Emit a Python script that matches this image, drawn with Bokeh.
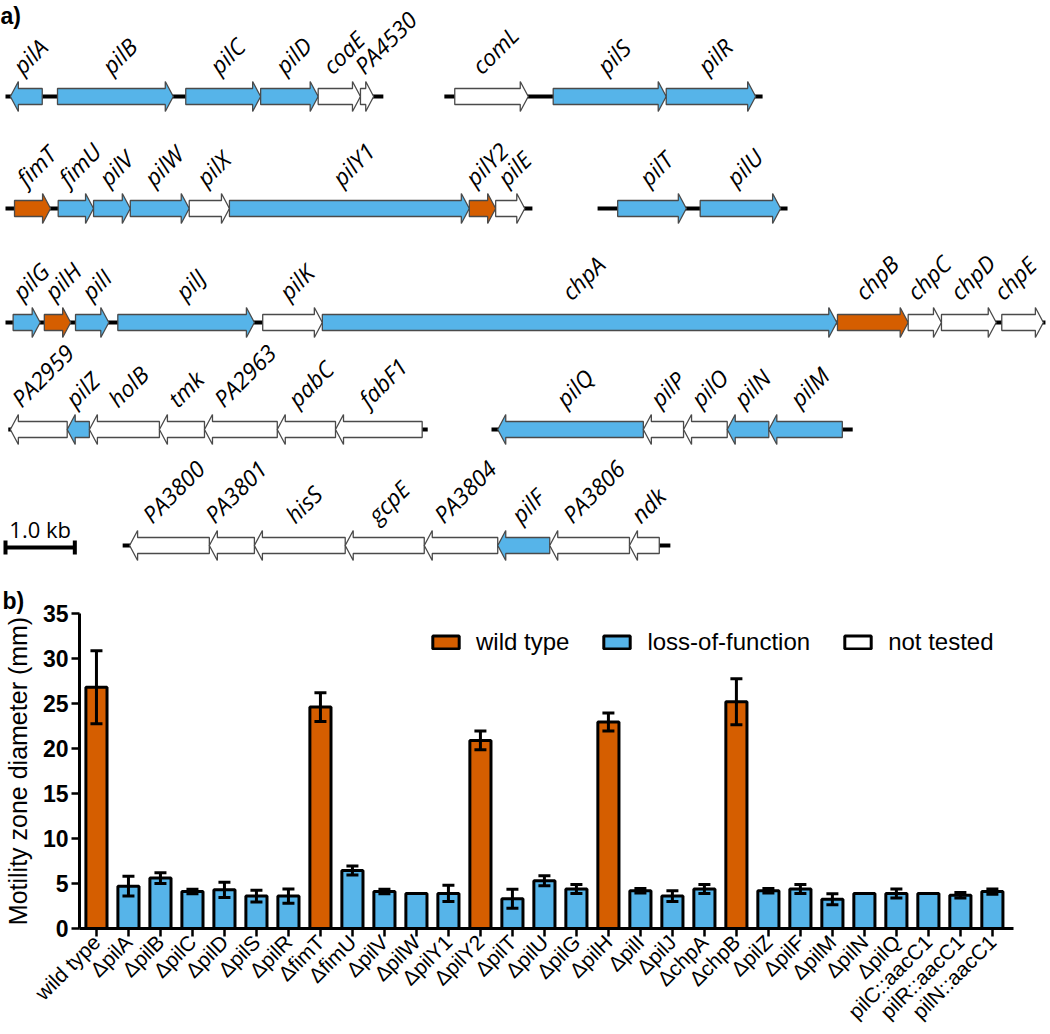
import math
from bokeh.plotting import figure
from bokeh.models import (Range1d, ColumnDataSource, FixedTicker, Whisker, TeeHead,
                          Legend, LegendItem)
from bokeh.core.properties import value
from bokeh.embed import file_html
from bokeh.resources import INLINE

BLUE = "#56B4E9"
ORANGE = "#D55E00"
WHITE = "#FFFFFF"
STATUS_COLOR = {"wt": ORANGE, "lof": BLUE, "nt": WHITE}

# ---------------- Panel a: gene maps (coordinates in kb) ----------------
row1_genes = ["pilA", "pilB", "pilC", "pilD", "coaE", "PA4530", "comL", "pilS", "pilR"]
row1_start = [0.07, 0.75, 2.60, 3.68, 4.51, 5.12, 6.48, 7.90, 9.53]
row1_end = [0.53, 2.42, 3.68, 4.51, 5.12, 5.31, 7.54, 9.53, 10.82]
row1_strand = [-1, 1, 1, 1, 1, 1, 1, 1, 1]
row1_status = ["lof", "lof", "lof", "lof", "nt", "nt", "nt", "lof", "lof"]
row1_loci = [(0.00, 5.45), (6.33, 10.92)]

row2_genes = ["fimT", "fimU", "pilV", "pilW", "pilX", "pilY1", "pilY2", "pilE", "pilT", "pilU"]
row2_start = [0.13, 0.76, 1.27, 1.80, 2.65, 3.23, 6.69, 7.07, 8.83, 10.02]
row2_end = [0.65, 1.27, 1.80, 2.65, 3.23, 6.69, 7.07, 7.49, 9.82, 11.18]
row2_strand = [1, 1, 1, 1, 1, 1, 1, 1, 1, 1]
row2_status = ["wt", "lof", "lof", "lof", "nt", "lof", "wt", "nt", "lof", "lof"]
row2_loci = [(0.00, 7.60), (8.54, 11.28)]

row3_genes = ["pilG", "pilH", "pilI", "pilJ", "pilK", "chpA", "chpB", "chpC", "chpD", "chpE"]
row3_start = [0.11, 0.56, 1.01, 1.62, 3.71, 4.57, 12.00, 13.02, 13.50, 14.37]
row3_end = [0.50, 0.94, 1.49, 3.59, 4.57, 11.99, 13.02, 13.50, 14.29, 14.97]
row3_strand = [1, 1, 1, 1, 1, 1, 1, 1, 1, 1]
row3_status = ["lof", "wt", "lof", "lof", "nt", "lof", "wt", "nt", "nt", "nt"]
row3_loci = [(0.00, 15.0)]

row4_genes = ["PA2959", "pilZ", "holB", "tmk", "PA2963", "pabC", "fabF1",
              "pilQ", "pilP", "pilO", "pilN", "pilM"]
row4_start = [0.07, 0.89, 1.21, 2.22, 2.87, 3.92, 4.76, 7.10, 9.20, 9.78, 10.41, 11.01]
row4_end = [0.89, 1.21, 2.22, 2.87, 3.92, 4.76, 6.01, 9.20, 9.78, 10.41, 11.01, 12.07]
row4_strand = [-1] * 12
row4_status = ["nt", "lof", "nt", "nt", "nt", "nt", "nt", "lof", "nt", "nt", "lof", "lof"]
row4_loci = [(0.04, 6.09), (7.01, 12.22)]

row5_genes = ["PA3800", "PA3801", "hisS", "gcpE", "PA3804", "pilF", "PA3806", "ndk"]
row5_start = [1.79, 2.94, 3.59, 4.90, 6.04, 7.10, 7.85, 9.00]
row5_end = [2.94, 3.59, 4.90, 6.04, 7.10, 7.85, 9.00, 9.43]
row5_strand = [-1] * 8
row5_status = ["nt", "nt", "nt", "nt", "nt", "lof", "nt", "nt"]
row5_loci = [(1.69, 9.59)]

scale_bar_kb = 1.0

# ---------------- Panel b: motility data ----------------
strains = ["wild type", "ΔpilA", "ΔpilB", "ΔpilC", "ΔpilD", "ΔpilS", "ΔpilR", "ΔfimT",
           "ΔfimU", "ΔpilV", "ΔpilW", "ΔpilY1", "ΔpilY2", "ΔpilT", "ΔpilU", "ΔpilG",
           "ΔpilH", "ΔpilI", "ΔpilJ", "ΔchpA", "ΔchpB", "ΔpilZ", "ΔpilF", "ΔpilM",
           "ΔpilN", "ΔpilQ", "pilC::aacC1", "pilR::aacC1", "pilN::aacC1"]
motility = [26.8, 4.7, 5.6, 4.1, 4.3, 3.6, 3.6, 24.6, 6.45, 4.1, 3.9, 3.9, 20.9, 3.3, 5.3,
            4.4, 22.95, 4.2, 3.6, 4.4, 25.2, 4.2, 4.4, 3.25, 3.9, 3.9, 3.9, 3.7, 4.1]
motility_err = [4.05, 1.1, 0.6, 0.25, 0.85, 0.65, 0.8, 1.6, 0.5, 0.25, 0.0, 0.9, 1.05, 1.05,
                0.55, 0.5, 1.0, 0.25, 0.6, 0.5, 2.55, 0.25, 0.5, 0.6, 0.0, 0.5, 0.0, 0.3, 0.3]
phenotype = ["wt", "lof", "lof", "lof", "lof", "lof", "lof", "wt", "lof", "lof", "lof", "lof",
             "wt", "lof", "lof", "lof", "wt", "lof", "lof", "lof", "wt", "lof", "lof", "lof",
             "lof", "lof", "lof", "lof", "lof"]
legend_labels = {"wt": "wild type", "lof": "loss-of-function", "nt": "not tested"}

# ================= Figure a =================
W = 1050
HA = 580
PX_PER_KB = 69.33
KB_LEFT = -5 / PX_PER_KB
KB_RIGHT = KB_LEFT + W / PX_PER_KB
ROW_Y = [96, 208, 322, 429, 545]
BODY = 8
HEAD = 15
HEAD_PX = 8
LABEL_FS = 23
MIN_LABEL_GAP_PX = 32
RIGHT_PAD_PX = 14

pa = figure(width=W, height=HA, x_range=Range1d(KB_LEFT, KB_RIGHT), y_range=Range1d(HA, 0),
            output_backend="svg", toolbar_location=None, min_border=0,
            x_axis_location=None, y_axis_location=None)
pa.grid.visible = False
pa.outline_line_color = None

OS_W = {'a': .556, 'b': .613, 'c': .479, 'd': .613, 'e': .561, 'f': .336, 'g': .546,
        'h': .614, 'i': .258, 'j': .258, 'k': .529, 'l': .258, 'm': .932, 'n': .614,
        'o': .603, 'p': .613, 'q': .613, 'r': .408, 's': .477, 't': .353, 'u': .614,
        'v': .501, 'w': .778, 'x': .524, 'y': .501, 'z': .463,
        'A': .633, 'B': .647, 'C': .631, 'D': .732, 'E': .556, 'F': .521, 'G': .729,
        'H': .740, 'I': .279, 'J': .267, 'K': .618, 'L': .531, 'M': .908, 'N': .765,
        'O': .781, 'P': .602, 'Q': .781, 'R': .617, 'S': .549, 'T': .553, 'U': .728,
        'V': .592, 'W': .924, 'X': .577, 'Y': .560, 'Z': .571}


def text_width(s, fs):
    return sum(OS_W.get(ch, 0.572) for ch in s) * fs


rows = [
    (row1_genes, row1_start, row1_end, row1_strand, row1_status, row1_loci),
    (row2_genes, row2_start, row2_end, row2_strand, row2_status, row2_loci),
    (row3_genes, row3_start, row3_end, row3_strand, row3_status, row3_loci),
    (row4_genes, row4_start, row4_end, row4_strand, row4_status, row4_loci),
    (row5_genes, row5_start, row5_end, row5_strand, row5_status, row5_loci),
]

seg_x0, seg_x1, seg_y = [], [], []
pxs, pys, pcol = [], [], []
lx, ly, lt = [], [], []
c45 = math.cos(math.pi / 4)
for (genes, starts, ends, strands, status, loci), y in zip(rows, ROW_Y):
    for a, b in loci:
        seg_x0.append(a)
        seg_x1.append(b)
        seg_y.append(y)
    prev_bx = None
    for g, s, e, st, ss in zip(genes, starts, ends, strands, status):
        h = min(HEAD_PX / PX_PER_KB, (e - s) * 0.6)
        if st > 0:
            bb = e - h
            xs = [s, bb, bb, e, bb, bb, s]
        else:
            bb = s + h
            xs = [e, bb, bb, s, bb, bb, e]
        ys = [y - BODY, y - BODY, y - HEAD, y, y + HEAD, y + BODY, y + BODY]
        pxs.append(xs)
        pys.append(ys)
        pcol.append(STATUS_COLOR[ss])
        # label placement (screen px along the map), centred above the gene
        cx_px = ((s + e) / 2 - KB_LEFT) * PX_PER_KB
        L = text_width(g, LABEL_FS) * 0.95
        bx_px = cx_px - c45 / 2 * (L - 0.48 * LABEL_FS)
        if prev_bx is not None and bx_px < prev_bx + MIN_LABEL_GAP_PX:
            bx_px = prev_bx + MIN_LABEL_GAP_PX
        right_px = bx_px + c45 * (L + 0.25 * LABEL_FS)
        if right_px > W - RIGHT_PAD_PX:
            bx_px -= right_px - (W - RIGHT_PAD_PX)
        prev_bx = bx_px
        lx.append(bx_px / PX_PER_KB + KB_LEFT)
        ly.append(y - 27)
        lt.append(g)

pa.segment(x0=seg_x0, x1=seg_x1, y0=seg_y, y1=seg_y, line_width=4, line_color="black")
pa.patches(xs=pxs, ys=pys, fill_color=pcol, line_color="#4a4a4a", line_width=1.3)
pa.text(x=lx, y=ly, text=lt, angle=math.pi / 4, text_font=value("Open Sans"),
        text_font_style="italic", text_font_size=f"{LABEL_FS}px", text_align="left",
        text_baseline="alphabetic", text_color="black")

# scale bar
sb_y = 547
sb_x0 = 0.0
pa.segment(x0=[sb_x0], x1=[sb_x0 + scale_bar_kb], y0=[sb_y], y1=[sb_y], line_width=4,
           line_color="black")
pa.segment(x0=[sb_x0, sb_x0 + scale_bar_kb], x1=[sb_x0, sb_x0 + scale_bar_kb],
           y0=[sb_y - 7, sb_y - 7], y1=[sb_y + 7, sb_y + 7], line_width=4, line_color="black")
pa.text(x=[sb_x0 + scale_bar_kb / 2], y=[sb_y - 19], text=[f"{scale_bar_kb:.1f} kb"],
        text_font=value("Open Sans"), text_font_size="22px", text_align="center",
        text_baseline="alphabetic", text_color="black")

pa.text(x=[KB_LEFT], y=[2], text=["a)"], text_font=value("Liberation Sans"),
        text_font_style="bold", text_font_size="23px", text_align="left",
        text_baseline="top", text_color="black")

# ================= Figure b =================
HB = 1034 - HA
n = len(strains)
pb = figure(width=W, height=HB, x_range=Range1d(-0.53, n - 1 + 0.66), y_range=Range1d(0, 35),
            output_backend="svg", toolbar_location=None,
            min_border_left=77, min_border_right=37, min_border_top=33, min_border_bottom=104)
pb.grid.visible = False
pb.outline_line_color = None

pb.title.text = "b)"
pb.title.align = "left"
pb.title.offset = -77
pb.title.standoff = 0
pb.title.text_font = "Liberation Sans"
pb.title.text_font_style = "bold"
pb.title.text_font_size = "23px"
pb.title.text_color = "black"

renderers = {}
for key in ["wt", "lof"]:
    idx = [i for i in range(n) if phenotype[i] == key]
    src = ColumnDataSource(dict(x=idx, top=[motility[i] for i in idx]))
    renderers[key] = pb.vbar(x="x", top="top", bottom=0, width=0.66, source=src,
                             fill_color=STATUS_COLOR[key], line_color="black", line_width=3)
renderers["nt"] = pb.vbar(x=[float("nan")], top=[float("nan")], bottom=0, width=0.66,
                          fill_color=WHITE, line_color="black", line_width=3)

eidx = [i for i in range(n) if motility_err[i] > 0]
esrc = ColumnDataSource(dict(x=eidx,
                             upper=[motility[i] + motility_err[i] for i in eidx],
                             lower=[motility[i] - motility_err[i] for i in eidx]))
wh = Whisker(base="x", upper="upper", lower="lower", source=esrc, line_width=3,
             line_color="black", level="overlay",
             upper_head=TeeHead(size=12, line_width=3, line_color="black"),
             lower_head=TeeHead(size=12, line_width=3, line_color="black"))
pb.add_layout(wh)

legend = Legend(items=[LegendItem(label=legend_labels[k], renderers=[renderers[k]])
                       for k in ["wt", "lof", "nt"]],
                orientation="horizontal", location=(350, 272),
                border_line_color=None, background_fill_alpha=0,
                glyph_width=33, glyph_height=16, label_standoff=14, spacing=31,
                padding=0, margin=0, label_text_font="Liberation Sans",
                label_text_font_size="24px", label_text_color="black")
pb.add_layout(legend)

xa = pb.xaxis[0]
xa.ticker = FixedTicker(ticks=list(range(n)))
xa.major_label_overrides = {i: s for i, s in enumerate(strains)}
xa.major_label_orientation = math.pi / 4
xa.major_label_text_font = "Liberation Sans"
xa.major_label_text_font_size = "21px"
xa.major_label_text_color = "black"
xa.major_label_standoff = 2
xa.minor_tick_line_color = None

ya = pb.yaxis[0]
ya.ticker = FixedTicker(ticks=[0, 5, 10, 15, 20, 25, 30, 35])
ya.major_label_text_font = "Liberation Sans"
ya.major_label_text_font_style = "bold"
ya.major_label_text_font_size = "23px"
ya.major_label_text_color = "black"
ya.major_label_standoff = 3
ya.minor_tick_line_color = None
ya.axis_label = "Motility zone diameter (mm)"
ya.axis_label_text_font = "Liberation Sans"
ya.axis_label_text_font_style = "normal"
ya.axis_label_text_font_size = "25px"
ya.axis_label_text_color = "black"
ya.axis_label_standoff = 8

for ax in (xa, ya):
    ax.axis_line_width = 3
    ax.axis_line_color = "black"
    ax.major_tick_line_width = 2.5
    ax.major_tick_line_color = "black"
    ax.major_tick_out = 8
    ax.major_tick_in = 0

open("out.html", "w").write(file_html([pa, pb], INLINE))
